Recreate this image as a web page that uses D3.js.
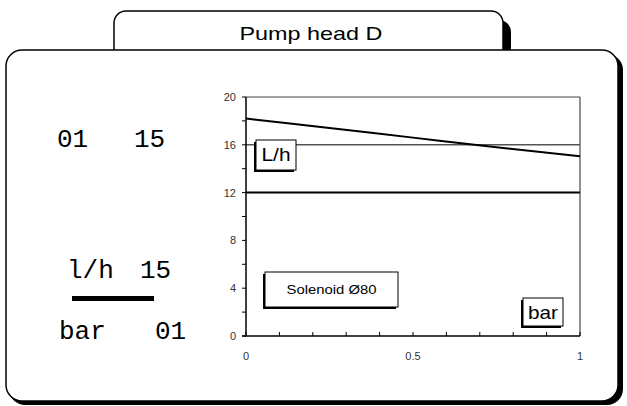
<!DOCTYPE html>
<html>
<head>
<meta charset="utf-8">
<script src="https://cdn.jsdelivr.net/npm/d3@7"></script>
<style>
  body { margin: 0; background: #fff; }
  svg { display: block; }
</style>
</head>
<body>
<div id="chart"></div>
<script>
// chart data
var flowX = [0, 0.25, 0.5, 0.75, 1];
var flowY = [18.2, 17.4, 16.6, 15.8, 15.05];
var refLines = [16, 12];
var yTicks = [0, 2, 4, 6, 8, 10, 12, 14, 16, 18, 20];
var yTickLabels = [0, 4, 8, 12, 16, 20];
var xTicks = [0, 0.1, 0.2, 0.3, 0.4, 0.5, 0.6, 0.7, 0.8, 0.9, 1];
var xTickLabels = ["0", "0.5", "1"];
var xTickLabelValues = [0, 0.5, 1];
var title = "Pump head D";
var settingsTop = ["01", "15"];
var settingsFlow = ["l/h", "15"];
var settingsBar = ["bar", "01"];

var width = 627;
var height = 406;

var svg = d3.select('#chart').append('svg')
    .attr('width', width)
    .attr('height', height);

// tab with title
svg.append('rect')
    .attr('x', 118).attr('y', 20).attr('width', 393).attr('height', 40)
    .attr('rx', 12).attr('fill', '#000');
svg.append('rect')
    .attr('x', 114).attr('y', 11).attr('width', 389).attr('height', 50)
    .attr('rx', 12).attr('fill', '#fff')
    .attr('stroke', '#000').attr('stroke-width', 1.5);
svg.append('text')
    .attr('x', 311).attr('y', 40)
    .attr('text-anchor', 'middle')
    .attr('font-family', 'Liberation Sans, Arial, sans-serif')
    .attr('font-size', 19)
    .attr('textLength', 143)
    .attr('lengthAdjust', 'spacingAndGlyphs')
    .text(title);

// main panel
svg.append('rect')
    .attr('x', 9).attr('y', 54).attr('width', 614).attr('height', 351)
    .attr('rx', 16).attr('fill', '#000');
svg.append('rect')
    .attr('x', 6).attr('y', 50).attr('width', 612).attr('height', 351)
    .attr('rx', 16).attr('fill', '#fff')
    .attr('stroke', '#000').attr('stroke-width', 1.5);

// left settings text
var mono = 'Liberation Mono, monospace';
function monoText(x, y, s) {
    svg.append('text')
        .attr('x', x).attr('y', y)
        .attr('font-family', mono)
        .attr('font-size', 26)
        .text(s);
}
monoText(57, 147, settingsTop[0]);
monoText(134, 147, settingsTop[1]);
monoText(67, 278, settingsFlow[0]);
monoText(140, 278, settingsFlow[1]);
svg.append('rect')
    .attr('x', 72).attr('y', 296).attr('width', 82).attr('height', 5)
    .attr('fill', '#000');
monoText(59, 339, settingsBar[0]);
monoText(155, 339, settingsBar[1]);

// plot area
var x = d3.scaleLinear().domain([0, 1]).range([246, 580]);
var y = d3.scaleLinear().domain([0, 20]).range([336, 97]);

var g = svg.append('g');

// top and right frame
g.append('line')
    .attr('x1', x(0)).attr('x2', x(1)).attr('y1', y(20)).attr('y2', y(20))
    .attr('stroke', '#444').attr('stroke-width', 1);
g.append('line')
    .attr('x1', x(1)).attr('x2', x(1)).attr('y1', y(20)).attr('y2', y(0))
    .attr('stroke', '#222').attr('stroke-width', 1);

// reference lines
g.selectAll('.ref')
    .data(refLines)
    .enter().append('line')
    .attr('class', 'ref')
    .attr('x1', x(0)).attr('x2', x(1))
    .attr('y1', function (d) { return y(d); })
    .attr('y2', function (d) { return y(d); })
    .attr('stroke', function (d, i) { return i === 0 ? '#555' : '#000'; })
    .attr('stroke-width', function (d, i) { return i === 0 ? 1.5 : 2; });

// y axis
g.append('line')
    .attr('x1', x(0)).attr('x2', x(0)).attr('y1', y(20)).attr('y2', y(0))
    .attr('stroke', '#000').attr('stroke-width', 1.5);
g.selectAll('.ytick')
    .data(yTicks)
    .enter().append('line')
    .attr('class', 'ytick')
    .attr('x1', x(0) - 4).attr('x2', x(0))
    .attr('y1', function (d) { return y(d); })
    .attr('y2', function (d) { return y(d); })
    .attr('stroke', '#000');
g.selectAll('.ylab')
    .data(yTickLabels)
    .enter().append('text')
    .attr('class', 'ylab')
    .attr('x', 236)
    .attr('y', function (d) { return y(d) + 4; })
    .attr('text-anchor', 'end')
    .attr('font-family', 'Liberation Sans, Arial, sans-serif')
    .attr('font-size', 11)
    .attr('fill', '#333')
    .text(function (d) { return d; });

// x axis
g.append('line')
    .attr('x1', x(0) - 4).attr('x2', x(1)).attr('y1', y(0)).attr('y2', y(0))
    .attr('stroke', '#000').attr('stroke-width', 1.5);
g.selectAll('.xtick')
    .data(xTicks)
    .enter().append('line')
    .attr('class', 'xtick')
    .attr('x1', function (d) { return x(d); })
    .attr('x2', function (d) { return x(d); })
    .attr('y1', y(0) - 4).attr('y2', y(0))
    .attr('stroke', '#000');
g.selectAll('.xlab')
    .data(xTickLabels)
    .enter().append('text')
    .attr('class', 'xlab')
    .attr('x', function (d, i) { return x(xTickLabelValues[i]); })
    .attr('y', 360)
    .attr('text-anchor', 'middle')
    .attr('font-family', 'Liberation Sans, Arial, sans-serif')
    .attr('font-size', 11)
    .attr('fill', '#333')
    .text(function (d) { return d; });

// flow curve
var line = d3.line()
    .curve(d3.curveMonotoneX)
    .x(function (d) { return x(d[0]); })
    .y(function (d) { return y(d[1]); });
g.append('path')
    .datum(flowX.map(function (v, i) { return [v, flowY[i]]; }))
    .attr('d', line)
    .attr('fill', 'none')
    .attr('stroke', '#000')
    .attr('stroke-width', 2);

// label boxes (shadow to the lower left)
function labelBox(bx, by, bw, bh, label, size, tl) {
    g.append('rect')
        .attr('x', bx - 2).attr('y', by + 2).attr('width', bw).attr('height', bh)
        .attr('fill', '#000');
    g.append('rect')
        .attr('x', bx).attr('y', by).attr('width', bw).attr('height', bh)
        .attr('fill', '#fff').attr('stroke', '#000').attr('stroke-width', 1);
    var t = g.append('text')
        .attr('x', bx + bw / 2).attr('y', by + bh / 2 + size * 0.36)
        .attr('text-anchor', 'middle')
        .attr('font-family', 'Liberation Sans, Arial, sans-serif')
        .attr('font-size', size)
        .text(label);
    if (tl) t.attr('textLength', tl).attr('lengthAdjust', 'spacingAndGlyphs');
}
labelBox(256, 140, 40, 30, 'L/h', 18, 29);
labelBox(265, 272, 133, 35, 'Solenoid Ø80', 13, 90);
labelBox(523, 298, 40, 28, 'bar', 19, 30);
</script>
</body>
</html>
